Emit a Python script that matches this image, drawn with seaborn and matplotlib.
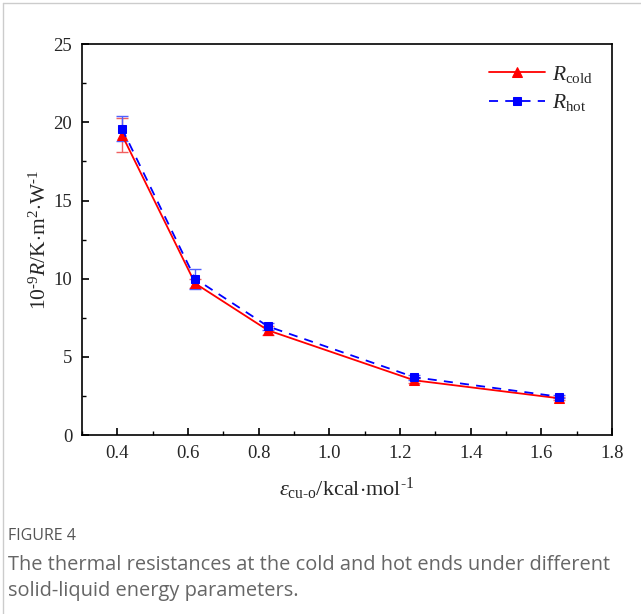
import matplotlib
matplotlib.use("Agg")
import matplotlib.pyplot as plt
from matplotlib.lines import Line2D
from matplotlib.ticker import MultipleLocator
import pandas as pd
import seaborn as sns

# energy parameter values
eps = [0.413, 0.62, 0.826, 1.24, 1.65]
r_cold = [19.2, 9.7, 6.7, 3.5, 2.35]
r_cold_err = [1.1, 0.3, 0.3, 0.15, 0.1]
r_hot = [19.6, 10.0, 6.95, 3.7, 2.45]
r_hot_err = [0.8, 0.65, 0.2, 0.15, 0.1]

sns.set_style("ticks")
plt.rcParams["font.family"] = ["Liberation Serif", "DejaVu Serif"]
plt.rcParams["mathtext.fontset"] = "custom"
plt.rcParams["mathtext.rm"] = "Liberation Serif"
plt.rcParams["mathtext.it"] = "Liberation Serif:italic"

df = pd.DataFrame({
    "eps": eps * 2,
    "R": r_cold + r_hot,
    "series": ["cold"] * len(eps) + ["hot"] * len(eps),
})

fig = plt.figure(figsize=(6.41, 6.14), dpi=100)
ax = fig.add_axes([0.128, 0.2915, 0.827, 0.6365])

ax.errorbar(eps, r_cold, yerr=r_cold_err, fmt="none", ecolor="#f06060", elinewidth=1, capsize=4, zorder=2)
ax.errorbar(eps, r_hot, yerr=r_hot_err, fmt="none", ecolor="#5060ff", elinewidth=1, capsize=4, zorder=2)

sns.lineplot(data=df[df.series == "cold"], x="eps", y="R", color="red", marker="^", markersize=6.5,
             markeredgecolor="red", linewidth=1.3, label=r"$R_{\rm cold}$", ax=ax, zorder=3)
sns.lineplot(data=df[df.series == "hot"], x="eps", y="R", color="blue", marker="s", markersize=6,
             markeredgecolor="blue", linewidth=1.3, linestyle=(0, (5, 4)), label=r"$R_{\rm hot}$", ax=ax, zorder=4)

ax.set_xlim(0.3, 1.8)
ax.set_ylim(0, 25)
ax.xaxis.set_major_locator(MultipleLocator(0.2))
ax.xaxis.set_minor_locator(MultipleLocator(0.1))
ax.yaxis.set_major_locator(MultipleLocator(5))
ax.yaxis.set_minor_locator(MultipleLocator(2.5))
ax.tick_params(which="major", direction="in", length=5, width=1.2, labelsize=13.5, top=False, right=False,
               color="black", pad=7)
ax.tick_params(which="minor", direction="in", length=3, width=1.0, top=False, right=False, color="black")
for s in ax.spines.values():
    s.set_linewidth(1.2)
    s.set_color("black")

ax.set_xlabel(r"$\varepsilon_{\rm cu\text{-}o}$/kcal$\cdot$mol$^{\text{-}1}$", fontsize=16, labelpad=10)
ax.set_ylabel(r"10$^{\text{-}9}$$R$/K$\cdot$m$^{2}$$\cdot$W$^{\text{-}1}$", fontsize=15.5, labelpad=2)

leg = ax.legend(loc="upper right", frameon=False, fontsize=15.5, handlelength=2.6, borderaxespad=0.5,
                labelspacing=0.35, handletextpad=0.3)

# page frame lines
fig.add_artist(Line2D([0.005, 1.0], [0.995, 0.995], color="#cccccc", linewidth=1))
fig.add_artist(Line2D([0.005, 0.005], [0.0, 0.995], color="#cccccc", linewidth=1))

fig.text(0.013, 0.12, "FIGURE 4", family="Open Sans", fontsize=11.5, color="#555555")
fig.text(0.013, 0.03, "The thermal resistances at the cold and hot ends under different\nsolid-liquid energy parameters.",
         family="Open Sans", fontsize=14.4, color="#666666", linespacing=1.4)

fig.savefig("out.png", dpi=100)
